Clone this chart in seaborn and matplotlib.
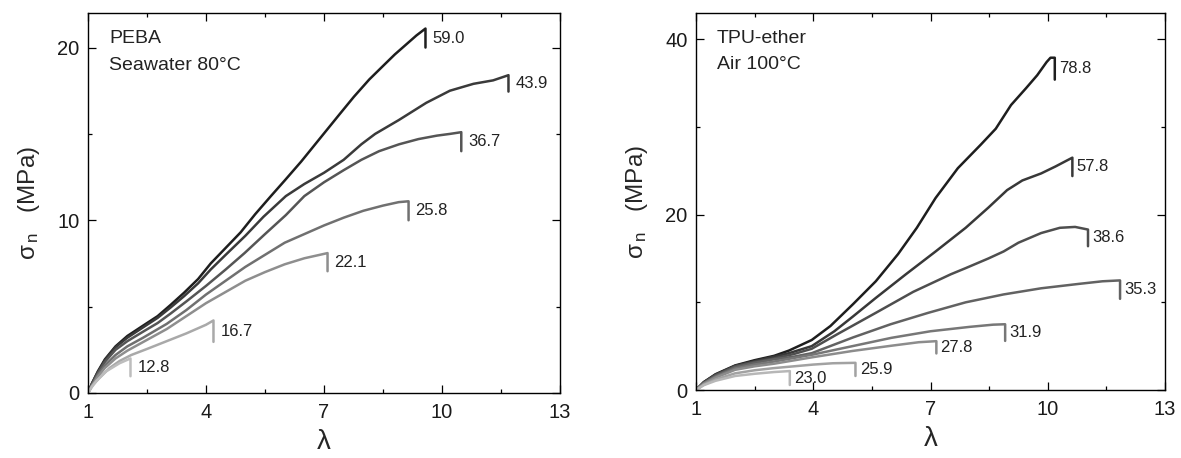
import numpy as np
import pandas as pd
import seaborn as sns
import matplotlib.pyplot as plt
from matplotlib.ticker import MultipleLocator, AutoMinorLocator

# --- PEBA, seawater 80 C (last point of each curve = drop after break) ---
peba_labels = ['59.0', '43.9', '36.7', '25.8', '22.1', '16.7', '12.8']
peba_colors = ['#1e1e1e', '#3a3a3a', '#555555', '#707070', '#8e8e8e', '#a9a9a9', '#bdbdbd']

peba_lam_590 = [1, 1.1, 1.25, 1.43, 1.7, 2.0, 2.4, 2.77, 3.1, 3.44, 3.8, 4.12, 4.5, 4.88,
                5.25, 5.65, 6.0, 6.42, 6.99, 7.4, 7.76, 8.15, 8.53, 8.8, 9.1, 9.35, 9.58, 9.58]
peba_sig_590 = [0, 0.55, 1.25, 1.95, 2.7, 3.3, 3.9, 4.45, 5.1, 5.8, 6.6, 7.5, 8.4, 9.3,
                10.35, 11.4, 12.3, 13.4, 15.0, 16.15, 17.15, 18.15, 19.0, 19.6, 20.2, 20.7, 21.1, 20.0]
peba_lam_439 = [1, 1.1, 1.25, 1.43, 1.7, 2.0, 2.4, 2.77, 3.1, 3.44, 3.8, 4.12, 4.5, 5.0, 5.46,
                6.03, 6.5, 7.0, 7.5, 7.95, 8.3, 8.9, 9.6, 10.2, 10.8, 11.3, 11.69, 11.69]
peba_sig_439 = [0, 0.55, 1.2, 1.9, 2.65, 3.2, 3.8, 4.35, 4.95, 5.6, 6.35, 7.15, 8.0, 9.1, 10.2,
                11.4, 12.1, 12.75, 13.5, 14.4, 15.0, 15.8, 16.8, 17.5, 17.9, 18.1, 18.4, 17.45]
peba_lam_367 = [1, 1.1, 1.25, 1.43, 1.7, 2.0, 2.4, 2.77, 3.1, 3.5, 4.0, 4.5, 4.98, 5.5, 6.03,
                6.5, 7.0, 7.5, 7.95, 8.4, 8.91, 9.4, 9.87, 10.2, 10.49, 10.49]
peba_sig_367 = [0, 0.5, 1.15, 1.8, 2.5, 3.0, 3.55, 4.05, 4.6, 5.3, 6.2, 7.15, 8.1, 9.2, 10.3,
                11.4, 12.2, 12.9, 13.5, 14.0, 14.4, 14.7, 14.9, 15.0, 15.1, 14.0]
peba_lam_258 = [1, 1.1, 1.25, 1.43, 1.7, 2.0, 2.4, 3.0, 3.5, 4.0, 4.5, 5.0, 5.5, 6.0, 6.5,
                7.0, 7.5, 8.0, 8.5, 8.9, 9.15, 9.15]
peba_sig_258 = [0, 0.45, 1.05, 1.6, 2.2, 2.7, 3.2, 4.0, 4.8, 5.7, 6.5, 7.3, 8.0, 8.7, 9.2,
                9.7, 10.15, 10.55, 10.85, 11.05, 11.1, 10.0]
peba_lam_221 = [1, 1.1, 1.25, 1.43, 1.7, 2.0, 2.4, 3.0, 3.5, 4.0, 4.5, 5.0, 5.5, 6.0, 6.5, 7.09, 7.09]
peba_sig_221 = [0, 0.4, 0.95, 1.45, 2.0, 2.45, 2.95, 3.7, 4.45, 5.2, 5.85, 6.5, 7.0, 7.45, 7.8, 8.1, 7.05]
peba_lam_167 = [1, 1.1, 1.3, 1.55, 1.8, 2.1, 2.5, 3.0, 3.5, 4.0, 4.19, 4.19]
peba_sig_167 = [0, 0.4, 0.9, 1.45, 1.85, 2.2, 2.55, 3.0, 3.45, 3.95, 4.2, 2.96]
peba_lam_128 = [1, 1.1, 1.21, 1.46, 1.8, 2.08, 2.08]
peba_sig_128 = [0, 0.35, 0.68, 1.25, 1.72, 2.0, 0.97]

# --- TPU-ether, air 100 C ---
tpu_labels = ['78.8', '57.8', '38.6', '35.3', '31.9', '27.8', '25.9', '23.0']
tpu_colors = ['#1e1e1e', '#383838', '#4e4e4e', '#626262', '#777777', '#8c8c8c', '#a2a2a2', '#b7b7b7']

tpu_lam_788 = [1, 1.2, 1.5, 2.0, 2.5, 3.0, 3.38, 3.96, 4.44, 5.02, 5.6, 6.17, 6.65, 7.13, 7.7,
               8.29, 8.67, 9.06, 9.44, 9.73, 9.97, 10.07, 10.18, 10.18]
tpu_sig_788 = [0, 0.9, 1.8, 2.8, 3.4, 3.9, 4.5, 5.7, 7.3, 9.8, 12.4, 15.5, 18.5, 21.9, 25.3,
               28.0, 29.8, 32.5, 34.4, 35.9, 37.4, 37.9, 37.9, 35.4]
tpu_lam_578 = [1, 1.2, 1.5, 2.0, 2.5, 3.0, 3.38, 3.96, 4.54, 5.02, 5.6, 6.37, 7.13, 7.9, 8.48,
               8.96, 9.35, 9.83, 10.2, 10.5, 10.63, 10.63]
tpu_sig_578 = [0, 0.9, 1.75, 2.75, 3.3, 3.8, 4.2, 5.0, 6.7, 8.4, 10.5, 13.2, 15.8, 18.5, 20.8,
               22.8, 23.9, 24.7, 25.5, 26.2, 26.5, 24.4]
tpu_lam_386 = [1, 1.2, 1.5, 2.0, 2.5, 3.0, 3.5, 3.96, 4.63, 5.6, 6.56, 7.52, 7.9, 8.48, 8.87,
               9.25, 9.83, 10.31, 10.7, 11.03, 11.03]
tpu_sig_386 = [0, 0.85, 1.7, 2.7, 3.2, 3.6, 4.1, 4.7, 6.4, 8.8, 11.2, 13.2, 13.9, 15.0, 15.8,
               16.8, 17.9, 18.5, 18.6, 18.3, 16.4]
tpu_lam_353 = [1, 1.2, 1.5, 2.0, 2.5, 3.0, 3.5, 3.96, 5.02, 5.98, 6.94, 7.9, 8.87, 9.83, 10.79,
               11.4, 11.85, 11.85]
tpu_sig_353 = [0, 0.8, 1.6, 2.6, 3.1, 3.5, 3.8, 4.2, 6.0, 7.5, 8.8, 10.0, 10.9, 11.6, 12.1,
               12.4, 12.5, 10.4]
tpu_lam_319 = [1, 1.2, 1.5, 2.0, 2.5, 3.0, 4.0, 5.0, 6.0, 7.0, 8.0, 8.6, 8.91, 8.91]
tpu_sig_319 = [0, 0.75, 1.5, 2.45, 2.9, 3.25, 4.05, 5.0, 5.95, 6.7, 7.2, 7.45, 7.5, 5.6]
tpu_lam_278 = [1, 1.2, 1.5, 2.0, 2.5, 3.0, 4.0, 5.0, 6.0, 6.7, 7.15, 7.15]
tpu_sig_278 = [0, 0.7, 1.4, 2.3, 2.7, 3.0, 3.75, 4.45, 5.05, 5.45, 5.57, 4.17]
tpu_lam_259 = [1, 1.2, 1.5, 2.0, 2.5, 3.0, 3.5, 4.0, 4.5, 5.08, 5.08]
tpu_sig_259 = [0, 0.6, 1.2, 1.9, 2.25, 2.5, 2.7, 2.9, 3.05, 3.1, 1.6]
tpu_lam_230 = [1, 1.2, 1.5, 2.0, 2.5, 3.0, 3.4, 3.4]
tpu_sig_230 = [0, 0.55, 1.05, 1.6, 1.85, 2.05, 2.16, 0.57]

x_ticks = [1, 4, 7, 10, 13]


def to_frame(labels, lams, sigs):
    parts = [pd.DataFrame({'lam': l, 'sig': s, 'curve': lab})
             for lab, l, s in zip(labels, lams, sigs)]
    return pd.concat(parts, ignore_index=True)


peba_df = to_frame(peba_labels,
                   [peba_lam_590, peba_lam_439, peba_lam_367, peba_lam_258,
                    peba_lam_221, peba_lam_167, peba_lam_128],
                   [peba_sig_590, peba_sig_439, peba_sig_367, peba_sig_258,
                    peba_sig_221, peba_sig_167, peba_sig_128])
tpu_df = to_frame(tpu_labels,
                  [tpu_lam_788, tpu_lam_578, tpu_lam_386, tpu_lam_353,
                   tpu_lam_319, tpu_lam_278, tpu_lam_259, tpu_lam_230],
                  [tpu_sig_788, tpu_sig_578, tpu_sig_386, tpu_sig_353,
                   tpu_sig_319, tpu_sig_278, tpu_sig_259, tpu_sig_230])

sns.set_theme(style='ticks')
plt.rcParams['font.family'] = ['Liberation Sans', 'DejaVu Sans']
plt.rcParams['mathtext.fontset'] = 'custom'
plt.rcParams['mathtext.rm'] = 'Liberation Sans'
plt.rcParams['mathtext.it'] = 'Liberation Sans'

fig = plt.figure(figsize=(11.81, 4.58), dpi=100)
ax1 = fig.add_axes([88 / 1181, 1 - 393 / 458, 472 / 1181, 380 / 458])
ax2 = fig.add_axes([696 / 1181, 1 - 390 / 458, 469 / 1181, 377 / 458])


def draw_panel(ax, df, labels, colors, ymax, ymajor, title1, title2, dx):
    sns.lineplot(data=df, x='lam', y='sig', hue='curve', hue_order=labels,
                 palette=dict(zip(labels, colors)), sort=False, estimator=None,
                 linewidth=1.8, legend=False, ax=ax)
    # break values next to the drop of each curve
    for lab in labels:
        sub = df[df['curve'] == lab]
        x_end = sub['lam'].iloc[-1]
        y_mid = (sub['sig'].iloc[-1] + sub['sig'].iloc[-2]) / 2
        ax.annotate(lab, (x_end, y_mid), xytext=(dx, 0), textcoords='offset points',
                    ha='left', va='center', fontsize=12, color='#222222')
    ax.set_xlim(1, 13)
    ax.set_ylim(0, ymax)
    ax.set_xticks(x_ticks)
    ax.yaxis.set_major_locator(MultipleLocator(ymajor))
    ax.xaxis.set_minor_locator(AutoMinorLocator(2))
    ax.yaxis.set_minor_locator(AutoMinorLocator(2))
    ax.tick_params(which='both', direction='in', top=True, right=True,
                   color='black', width=0.9)
    ax.tick_params(which='major', length=6, labelsize=14.5, labelcolor='#1a1a1a')
    ax.tick_params(axis='x', which='major', pad=7)
    ax.tick_params(axis='y', which='major', pad=6)
    ax.tick_params(which='minor', length=3)
    for sp in ax.spines.values():
        sp.set_visible(True)
        sp.set_color('black')
        sp.set_linewidth(1.0)
    ax.set_xlabel('λ', fontsize=20, labelpad=5)
    ax.set_ylabel(r'$\sigma_{\,\mathregular{n}}$   (MPa)', fontsize=17.5, labelpad=11)
    ax.text(0.045, 0.955, title1, transform=ax.transAxes, ha='left', va='top',
            fontsize=14, color='#222222')
    ax.text(0.045, 0.885, title2, transform=ax.transAxes, ha='left', va='top',
            fontsize=14, color='#222222')


draw_panel(ax1, peba_df, peba_labels, peba_colors, 22, 10,
           'PEBA', 'Seawater 80°C', 5)
draw_panel(ax2, tpu_df, tpu_labels, tpu_colors, 43, 20,
           'TPU-ether', 'Air 100°C', 3)

fig.savefig('out.png', dpi=100)
